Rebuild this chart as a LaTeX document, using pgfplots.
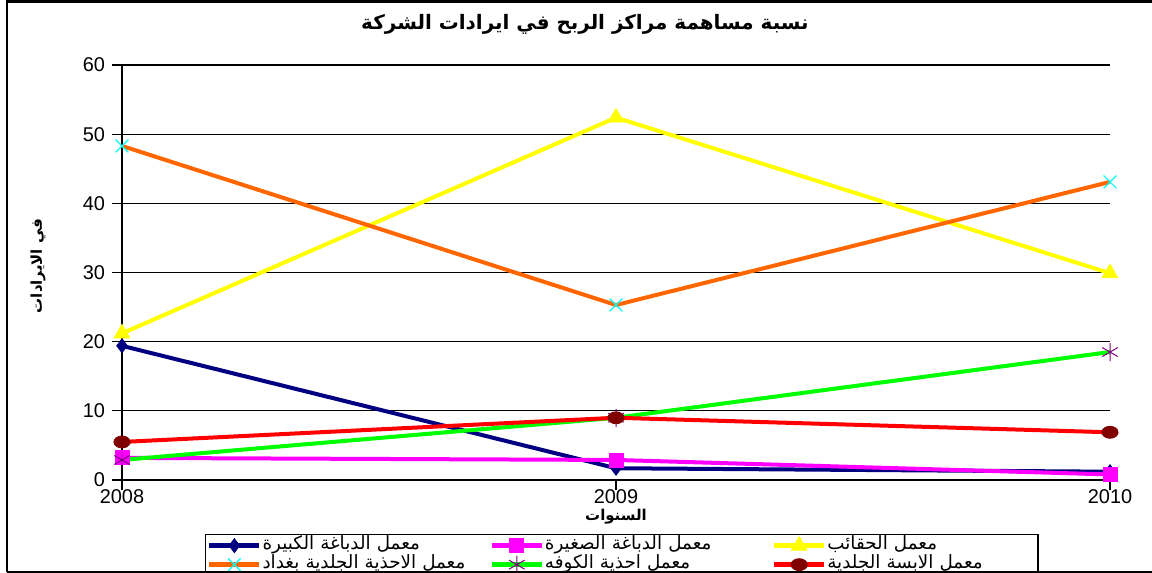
\documentclass[border=0pt]{standalone}
\usepackage{pgfplots}
\pgfplotsset{compat=1.18}
\usepackage{fontspec}
\setmainfont{Liberation Sans}
\newfontfamily\arabicfont[Script=Arabic]{DejaVu Sans}
\TeXXeTstate=1
\definecolor{cnavy}{RGB}{0,0,128}
\definecolor{cmag}{RGB}{255,0,255}
\definecolor{cyel}{RGB}{255,255,0}
\definecolor{corange}{RGB}{255,102,0}
\definecolor{ccyan}{RGB}{0,255,255}
\definecolor{cgreen}{RGB}{0,255,0}
\definecolor{cpurple}{RGB}{128,0,128}
\definecolor{cred}{RGB}{255,0,0}
\definecolor{cdred}{RGB}{128,0,0}
\begin{document}
\begin{tikzpicture}
\begin{axis}[
  at={(61bp,-240bp)}, anchor=south west,
  scale only axis, width=494bp, height=207.5bp,
  xmin=0, xmax=2, ymin=0, ymax=60,
  xtick={0,1,2}, xticklabels={2008,2009,2010},
  ytick={0,10,...,60},
  axis lines*=left,
  axis line style={black, line width=0.6bp},
  ymajorgrids, grid style={black, line width=0.6bp},
  tick align=outside, major tick length=5bp,
  tick style={black, line width=0.6bp},
  ticklabel style={font=\fontsize{10}{12}\selectfont},
  xticklabel style={yshift=3.5bp},
  /pgf/number format/assume math mode=true,
  clip=false,
  legend columns=3,
  legend style={at={(0.084,-0.130)}, anchor=north west, draw=black, line width=0.6bp,
    font=\arabicfont\fontsize{9.2}{10}\selectfont,
    nodes={text width=104bp, align=left, inner sep=0.5bp, text height=6bp, text depth=2.5bp},
    /tikz/every even column/.append style={column sep=9bp},
    row sep=0bp, inner sep=0.8bp},
  legend image code/.code={\draw[#1, line width=2.2bp, mark repeat=2, mark phase=2] plot coordinates {(0bp,0bp) (12.5bp,0bp) (25bp,0bp)};},
  every axis plot/.append style={line width=2bp},
]
\addplot[cnavy, mark=diamond*, mark size=3.5bp, mark options={fill=cnavy, line width=0.4bp}] coordinates {(0,19.4) (1,1.7) (2,1.2)};
\addlegendentry{\beginR معمل الدباغة الكبيرة\endR}
\addplot[cmag, mark=square*, mark size=3.5bp, mark options={fill=cmag, line width=0.4bp}] coordinates {(0,3.2) (1,2.9) (2,0.8)};
\addlegendentry{\beginR معمل الدباغة الصغيرة\endR}
\addplot[cyel, mark=triangle*, mark size=4.5bp, mark options={fill=cyel, line width=0.4bp}] coordinates {(0,21.2) (1,52.4) (2,29.9)};
\addlegendentry{\beginR معمل الحقائب\endR}
\addplot[corange, mark=x, mark size=4.5bp, mark options={draw=ccyan, line width=0.6bp}] coordinates {(0,48.3) (1,25.3) (2,43.1)};
\addlegendentry{\beginR معمل الاحذية الجلدية بغداد\endR}
\addplot[cgreen, mark=asterisk, mark size=4.5bp, mark options={draw=cpurple, line width=0.5bp}] coordinates {(0,2.9) (1,9.0) (2,18.5)};
\addlegendentry{\beginR معمل احذية الكوفه\endR}
\addplot[cred, mark=*, mark size=3bp, mark options={draw=cdred, fill=cdred, xscale=1.35, line width=0.4bp}] coordinates {(0,5.5) (1,9.0) (2,6.9)};
\addlegendentry{\beginR معمل الابسة الجلدية\endR}
\end{axis}
% title and labels
\node[font=\arabicfont\bfseries\fontsize{10}{12}\selectfont] at (292.5bp,-12bp) {\beginR نسبة مساهمة مراكز الربح في ايرادات الشركة\endR};
\node[font=\arabicfont\bfseries\fontsize{7.5}{9}\selectfont, rotate=90] at (19bp,-133bp) {\beginR في الايرادات\endR};
\node[font=\arabicfont\bfseries\fontsize{7.5}{9}\selectfont] at (308bp,-258.5bp) {\beginR السنوات\endR};
% frame
\draw[black, line width=1.2bp] (3.5bp,-286bp) -- (3.5bp,-0.75bp) -- (576bp,-0.75bp);
\draw[black, line width=1bp] (3.5bp,-286bp) -- (576bp,-286bp);
\pgfresetboundingbox
\path[use as bounding box] (0bp,0bp) rectangle (576bp,-286.5bp);
\end{tikzpicture}
\end{document}
